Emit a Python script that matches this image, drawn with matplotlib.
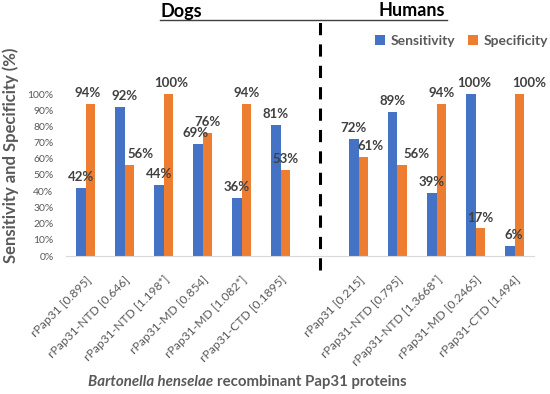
import matplotlib
matplotlib.use("Agg")
import matplotlib.pyplot as plt
from matplotlib.lines import Line2D
import numpy as np

plt.rcParams['font.family'] = ['Lato', 'DejaVu Sans']

categories = ["rPap31 [0.895]", "rPap31-NTD [0.646]", "rPap31-NTD [1.198*]",
              "rPap31-MD [0.854]", "rPap31-MD [1.082*]", "rPap31-CTD [0.1895]",
              "",
              "rPap31 [0.215]", "rPap31-NTD [0.795]", "rPap31-NTD [1.3668*]",
              "rPap31-MD [0.2465]", "rPap31-CTD [1.494]"]
sensitivity = [42, 92, 44, 69, 36, 81, None, 72, 89, 39, 100, 6]
specificity = [94, 56, 100, 76, 94, 53, None, 61, 56, 94, 17, 100]
yticks = [0, 10, 20, 30, 40, 50, 60, 70, 80, 90, 100]

# horizontal nudges of data labels (pixels), as placed in the original
sens_nudge = [0, 5, 0, -2, 0, 0, 0, 0, 0, 0, 3, 4]
spec_nudge = [-3, 11, 3, 0, 0, 0, 0, 7, 14, 0, 0, 10]

blue = "#4472C4"
orange = "#ED7D31"
grey = "#595959"
dark = "#404040"

fig = plt.figure(figsize=(5.5, 3.94), dpi=100)
ax = fig.add_axes([66/550, 1-256/394, 468/550, 162/394])

x = np.arange(len(categories))
w = 0.24
px = 72 / 100  # points per pixel
for i, (s, p) in enumerate(zip(sensitivity, specificity)):
    if s is None:
        continue
    ax.bar(i - w/2, s, w, color=blue, label="Sensitivity" if i == 0 else None)
    ax.bar(i + w/2, p, w, color=orange, label="Specificity" if i == 0 else None)
    ax.annotate(f"{s}%", (i - w/2, s), xytext=(sens_nudge[i] * px, 3.5),
                textcoords="offset points", ha="center", va="bottom",
                fontsize=9.5, fontweight="bold", color=dark)
    ax.annotate(f"{p}%", (i + w/2, p), xytext=(spec_nudge[i] * px, 3.5),
                textcoords="offset points", ha="center", va="bottom",
                fontsize=9.5, fontweight="bold", color=dark)

ax.set_xlim(-0.5, len(categories) - 0.5)
ax.set_ylim(0, 100)
ax.set_yticks(yticks)
ax.set_yticklabels([f"{v}%" for v in yticks], fontsize=7.5, color=grey)
ax.set_xticks(x)
ax.set_xticklabels(categories, rotation=45, ha="right", rotation_mode="anchor",
                   fontsize=8.7, color=grey)
ax.tick_params(axis="both", length=0)
ax.tick_params(axis="x", pad=13)
ax.tick_params(axis="y", pad=9)
for sp in ["top", "right", "left"]:
    ax.spines[sp].set_visible(False)
ax.spines["bottom"].set_color("#D9D9D9")

ax.set_ylabel("Sensitivity and Specificity (%)", fontsize=12, fontweight="bold",
              color=grey)
ax.yaxis.set_label_coords(-0.1, 0.62)

# dashed separator
ax.axvline(6, ymin=-0.086, ymax=1.49, color="black", lw=2.2, ls=(0, (4, 3)), clip_on=False)

# group titles
fig.add_artist(Line2D([160/550, 447/550], [1-20/394, 1-20/394], color=dark, lw=1))
fig.text(181/550, 1-11/394, "Dogs", ha="center", va="center", fontsize=13,
         fontweight="bold", color="black")
fig.text(412/550, 1-11/394, "Humans", ha="center", va="center", fontsize=13,
         fontweight="bold", color="black")

leg = ax.legend(loc="upper left", bbox_to_anchor=(375/550, 1-35/394),
                bbox_transform=fig.transFigure, ncol=2, frameon=False,
                prop={"size": 10, "weight": "bold"}, handlelength=0.7, handleheight=0.7,
                handletextpad=0.45, columnspacing=0.9, borderaxespad=0, borderpad=0)
for t in leg.get_texts():
    t.set_color(grey)

fig.text(213/550, 1-382/394, "Bartonella henselae", ha="right", va="center",
         fontsize=10.8, fontweight="bold", style="italic", color=grey)
fig.text(217/550, 1-382/394, "recombinant Pap31 proteins", ha="left", va="center",
         fontsize=10.8, fontweight="bold", color=grey)

fig.savefig("out.png", dpi=100)
